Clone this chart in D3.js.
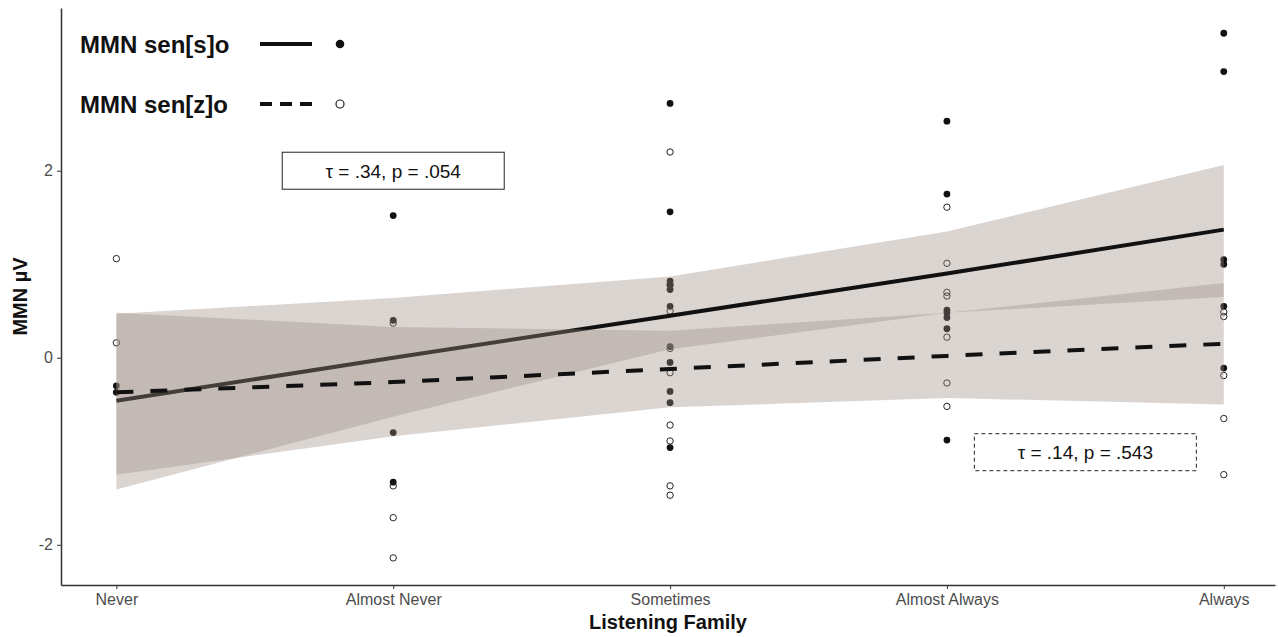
<!DOCTYPE html>
<html>
<head>
<meta charset="utf-8">
<script src="https://cdn.jsdelivr.net/npm/d3@7"></script>
<style>
  html, body { margin: 0; padding: 0; background: #fff; }
  svg { display: block; font-family: "Liberation Sans", Arial, sans-serif; }
</style>
</head>
<body>
<svg id="chart" width="1278" height="637"></svg>
<script>
// Response categories on the x axis
const categories = ["Never", "Almost Never", "Sometimes", "Almost Always", "Always"];

// Individual MMN amplitudes (µV) per category, sen[s]o (filled) and sen[z]o (open)
const senS_points = [
  [-0.30, -0.37],
  [1.52, 0.40, -0.80, -1.33],
  [2.72, 1.56, 0.82, 0.78, 0.73, 0.55, 0.12, -0.05, -0.36, -0.48, -0.96],
  [2.53, 1.75, 0.51, 0.48, 0.43, 0.31, -0.88],
  [3.47, 3.06, 1.05, 1.00, 0.55, -0.11]
];
const senZ_points = [
  [1.06, 0.16],
  [0.37, -1.37, -1.71, -2.14],
  [2.20, 0.78, 0.50, 0.10, -0.16, -0.72, -0.89, -1.37, -1.47],
  [1.61, 1.01, 0.70, 0.66, 0.22, -0.27, -0.52],
  [0.49, 0.44, -0.19, -0.65, -1.25]
];

// Fitted trend and confidence band at each category
const senS_fit   = [-0.46, 0.00, 0.45, 0.90, 1.37];
const senS_lower = [-1.41, -0.63, 0.09, 0.48, 0.65];
const senS_upper = [0.47, 0.64, 0.87, 1.35, 2.06];

const senZ_fit   = [-0.37, -0.26, -0.12, 0.02, 0.15];
const senZ_lower = [-1.25, -0.84, -0.53, -0.43, -0.50];
const senZ_upper = [0.48, 0.33, 0.29, 0.48, 0.80];

// Axis ticks
const yTicks = [-2, 0, 2];

// Correlation annotations: [x position (category index, 1-based), y value, text, dashed border]
const annotations = [
  [2, 2.0, "τ = .34, p = .054", false],
  [4.5, -1.01, "τ = .14, p = .543", true]
];

// Legend entries
const legendLabels = ["MMN sen[s]o", "MMN sen[z]o"];

const svg = d3.select("#chart");

const x = d3.scaleLinear().domain([0.8, 5.185]).range([61, 1275]);
const y = d3.scaleLinear().domain([-2.43, 3.74]).range([585, 8]);

const idx = categories.map((c, i) => i + 1);

const ribbonFill = "rgb(158,140,134)";
const ribbonOpacity = 0.37;

// Points (drawn underneath the confidence bands)
const gPts = svg.append("g");
senS_points.forEach((vals, i) => {
  gPts.selectAll(null).data(vals).enter().append("circle")
    .attr("cx", x(i + 1)).attr("cy", d => y(d)).attr("r", 3.4)
    .attr("fill", "#111");
});
senZ_points.forEach((vals, i) => {
  gPts.selectAll(null).data(vals).enter().append("circle")
    .attr("cx", x(i + 1)).attr("cy", d => y(d)).attr("r", 3.2)
    .attr("fill", "none").attr("stroke", "#222").attr("stroke-width", 1);
});

const area = (lo, hi) => d3.area()
  .x((d, i) => x(idx[i]))
  .y0((d, i) => y(lo[i]))
  .y1((d, i) => y(hi[i]))(idx);

const line = (vals) => d3.line()
  .x((d, i) => x(idx[i]))
  .y((d, i) => y(vals[i]))(idx);

// sen[s]o band and trend
svg.append("path").attr("d", area(senS_lower, senS_upper))
  .attr("fill", ribbonFill).attr("fill-opacity", ribbonOpacity);
svg.append("path").attr("d", line(senS_fit))
  .attr("fill", "none").attr("stroke", "#111").attr("stroke-width", 4);

// sen[z]o band and trend
svg.append("path").attr("d", area(senZ_lower, senZ_upper))
  .attr("fill", ribbonFill).attr("fill-opacity", ribbonOpacity);
svg.append("path").attr("d", line(senZ_fit))
  .attr("fill", "none").attr("stroke", "#111").attr("stroke-width", 4)
  .attr("stroke-dasharray", "17,17");

// Axes
const yAxis = d3.axisLeft(y).tickValues(yTicks).tickSize(4).tickSizeOuter(0)
  .tickFormat(d => String(d));
const gy = svg.append("g").attr("transform", `translate(${x(0.8)},0)`).call(yAxis);
gy.select(".domain").attr("stroke", "#333").attr("stroke-width", 1.5);
gy.selectAll(".tick line").attr("stroke", "#333");
gy.selectAll(".tick text").attr("fill", "#4d4d4d").attr("font-size", 16)
  .attr("font-family", "Liberation Sans, Arial, sans-serif").attr("x", -8);

const xAxis = d3.axisBottom(x).tickValues(idx).tickSize(4).tickSizeOuter(0)
  .tickFormat(d => categories[d - 1]);
const gx = svg.append("g").attr("transform", `translate(0,${y(-2.43)})`).call(xAxis);
gx.select(".domain").attr("stroke", "#333").attr("stroke-width", 1.5);
gx.selectAll(".tick line").attr("stroke", "#333");
gx.selectAll(".tick text").attr("fill", "#4d4d4d").attr("font-size", 16)
  .attr("font-family", "Liberation Sans, Arial, sans-serif").attr("y", 9);

// Axis titles
svg.append("text")
  .attr("x", (x(0.8) + x(5.185)) / 2).attr("y", 629)
  .attr("text-anchor", "middle").attr("font-weight", "bold").attr("font-size", 20)
  .attr("fill", "#111").text("Listening Family");
svg.append("text")
  .attr("transform", `translate(27,${(y(-2.43) + y(3.74)) / 2}) rotate(-90)`)
  .attr("text-anchor", "middle").attr("font-weight", "bold").attr("font-size", 20)
  .attr("fill", "#111").text("MMN µV");

// Annotation boxes
annotations.forEach(([ax, ay, txt, dashed]) => {
  const cx = x(ax), cy = y(ay);
  const w = 222, h = 37;
  svg.append("rect")
    .attr("x", cx - w / 2).attr("y", cy - h / 2).attr("width", w).attr("height", h)
    .attr("fill", "#fff").attr("stroke", "#222").attr("stroke-width", 1)
    .attr("stroke-dasharray", dashed ? "4,3" : null);
  svg.append("text")
    .attr("x", cx).attr("y", cy + 7).attr("text-anchor", "middle")
    .attr("font-size", 19).attr("fill", "#111").text(txt);
});

// Legend
const legend = svg.append("g");
legendLabels.forEach((lab, i) => {
  const ly = 44 + i * 60;
  legend.append("text").attr("x", 80).attr("y", ly + 9)
    .attr("font-weight", "bold").attr("font-size", 24).attr("fill", "#111").text(lab);
  legend.append("line").attr("x1", 260).attr("x2", 312).attr("y1", ly).attr("y2", ly)
    .attr("stroke", "#111").attr("stroke-width", 4)
    .attr("stroke-dasharray", i === 1 ? "12,8" : null);
  const pt = legend.append("circle").attr("cx", 340).attr("cy", ly).attr("r", i === 0 ? 4.3 : 4);
  if (i === 0) pt.attr("fill", "#111");
  else pt.attr("fill", "none").attr("stroke", "#222").attr("stroke-width", 1.2);
});
</script>
</body>
</html>
